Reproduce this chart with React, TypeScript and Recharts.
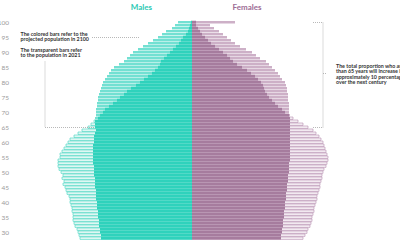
import { Bar, BarChart, ReferenceLine, XAxis, YAxis } from "recharts";

// single-year ages, top row is 100+
const ages = [
  100, 99, 98, 97, 96, 95, 94, 93, 92, 91,
  90, 89, 88, 87, 86, 85, 84, 83, 82, 81,
  80, 79, 78, 77, 76, 75, 74, 73, 72, 71,
  70, 69, 68, 67, 66, 65, 64, 63, 62, 61,
  60, 59, 58, 57, 56, 55, 54, 53, 52, 51,
  50, 49, 48, 47, 46, 45, 44, 43, 42, 41,
  40, 39, 38, 37, 36, 35, 34, 33, 32, 31,
  30, 29, 28,
];

// projected population 2100 (colored bars)
const male2100 = [
  14, 17, 20, 26, 30, 34, 39, 44, 49, 54,
  59, 62, 65, 68, 73, 78, 81, 83, 85, 87,
  89, 90, 91, 92, 93, 94, 94, 95, 95, 96,
  96, 96, 97, 97, 97, 97, 96, 97, 98, 98,
  98, 99, 99, 99, 99, 99, 99, 99, 98, 98,
  98, 98, 97, 97, 97, 97, 96, 96, 96, 96,
  95, 95, 95, 94, 94, 94, 93, 93, 93, 92,
  92, 91, 91,
];
const female2100 = [
  43, 18, 22, 27, 31, 35, 39, 43, 48, 54,
  60, 64, 68, 74, 77, 80, 83, 86, 88, 90,
  93, 94, 95, 95, 96, 96, 96, 97, 97, 97,
  97, 98, 98, 98, 98, 98, 98, 98, 98, 98,
  98, 98, 98, 98, 98, 98, 98, 97, 97, 97,
  97, 96, 96, 96, 95, 95, 95, 94, 94, 94,
  93, 93, 93, 92, 92, 92, 91, 91, 91, 90,
  90, 89, 89,
];

// population 2021 (transparent bars)
const male2021 = [
  1, 2, 3, 4, 6, 9, 11, 13, 16, 19,
  22, 25, 28, 31, 32, 34, 37, 40, 44, 48,
  52, 56, 61, 65, 68, 72, 75, 79, 83, 87,
  89, 92, 94, 98, 101, 104, 110, 114, 118, 122,
  124, 126, 128, 130, 132, 132, 134, 134, 134, 133,
  131, 129, 130, 128, 129, 127, 126, 125, 123, 122,
  122, 121, 120, 120, 119, 119, 119, 118, 117, 115,
  114, 113, 112,
];
const female2021 = [
  4, 4, 6, 8, 10, 13, 16, 19, 23, 27,
  31, 35, 38, 41, 45, 50, 55, 59, 63, 66,
  69, 71, 72, 73, 75, 77, 80, 83, 86, 90,
  93, 97, 101, 106, 111, 116, 121, 124, 127, 129,
  131, 132, 133, 134, 135, 136, 136, 135, 134, 132,
  131, 130, 130, 129, 128, 128, 127, 126, 125, 125,
  124, 123, 122, 122, 121, 120, 120, 119, 118, 116,
  115, 113, 111,
];

const leftNotes = [
  "The colored bars refer to the",
  "projected population in 2100",
  "The transparent bars refer",
  "to the population in 2021",
];
const rightNote = [
  "The total proportion who are older",
  "than 65 years will increase by",
  "approximately 10 percentage points",
  "over the next century",
];

const rows = ages.map((age, i) => ({
  age,
  m2021: -male2021[i],
  f2021: female2021[i],
  m2100: -male2100[i],
  f2100: female2100[i],
  mBoth: -Math.min(male2021[i], male2100[i]),
  fBoth: Math.min(female2021[i], female2100[i]),
}));

const FONT = "Lato, 'Noto Sans', sans-serif";
const dotted = { stroke: "#9a9a9a", strokeWidth: 0.7, strokeDasharray: "1 1", ifOverflow: "visible" as const };

export default function App() {
  return (
    <div style={{ position: "absolute", left: 0, top: 0, width: 400, height: 240, overflow: "hidden", background: "#fff" }}>
      <BarChart
        width={400}
        height={240}
        data={rows}
        layout="vertical"
        margin={{ top: 21, right: 58, bottom: 0, left: 2 }}
        barSize={2.4}
        barGap={-2.4}
      >
        <XAxis type="number" domain={[-150, 150]} hide />
        <YAxis
          type="category"
          dataKey="age"
          width={40}
          interval={4}
          tickLine={false}
          axisLine={false}
          tickSize={0}
          tickMargin={33}
          tick={{ fontSize: 6.5, fill: "#9a9a9a", fontFamily: FONT }}
        />
        <Bar dataKey="m2021" fill="#e9faf7" stroke="#3fd3bf" strokeWidth={0.6} isAnimationActive={false} />
        <Bar dataKey="f2021" fill="#f7eff5" stroke="#b68dae" strokeWidth={0.6} isAnimationActive={false} />
        <Bar dataKey="m2100" fill="#72e0d2" isAnimationActive={false} />
        <Bar dataKey="f2100" fill="#cdb0c7" isAnimationActive={false} />
        <Bar dataKey="mBoth" fill="#2fd2bc" isAnimationActive={false} />
        <Bar dataKey="fBoth" fill="#a67c9e" isAnimationActive={false} />
        <ReferenceLine segment={[{ x: -100, y: 95 }, { x: -52, y: 95 }]} {...dotted} />
        <ReferenceLine segment={[{ x: -147, y: 87 }, { x: -147, y: 65 }]} {...dotted} />
        <ReferenceLine segment={[{ x: -147, y: 65 }, { x: -97, y: 65 }]} {...dotted} />
        <ReferenceLine segment={[{ x: 131, y: 100 }, { x: 131, y: 65 }]} {...dotted} />
        <ReferenceLine segment={[{ x: 121, y: 100 }, { x: 131, y: 100 }]} {...dotted} />
        <ReferenceLine segment={[{ x: 121, y: 65 }, { x: 131, y: 65 }]} {...dotted} />
        <ReferenceLine segment={[{ x: 131, y: 83 }, { x: 135, y: 83 }]} {...dotted} />
      </BarChart>
      <svg width={400} height={240} style={{ position: "absolute", left: 0, top: 0, pointerEvents: "none" }}>
        <g fontFamily={FONT} fontWeight={700}>
          <text x={141.5} y={9.5} textAnchor="middle" fontSize={8} fill="#2cc9b4">Males</text>
          <text x={247} y={9.5} textAnchor="middle" fontSize={8} fill="#9d6c95">Females</text>
          <g fontSize={5.3} fill="#333">
            <text x={20.5} y={35.5}>{leftNotes[0]}</text>
            <text x={20.5} y={40.5}>{leftNotes[1]}</text>
            <text x={20.5} y={52}>{leftNotes[2]}</text>
            <text x={20.5} y={57}>{leftNotes[3]}</text>
            {rightNote.map((line, i) => (
              <text key={line} x={336} y={68 + i * 5.3}>{line}</text>
            ))}
          </g>
        </g>
      </svg>
    </div>
  );
}
